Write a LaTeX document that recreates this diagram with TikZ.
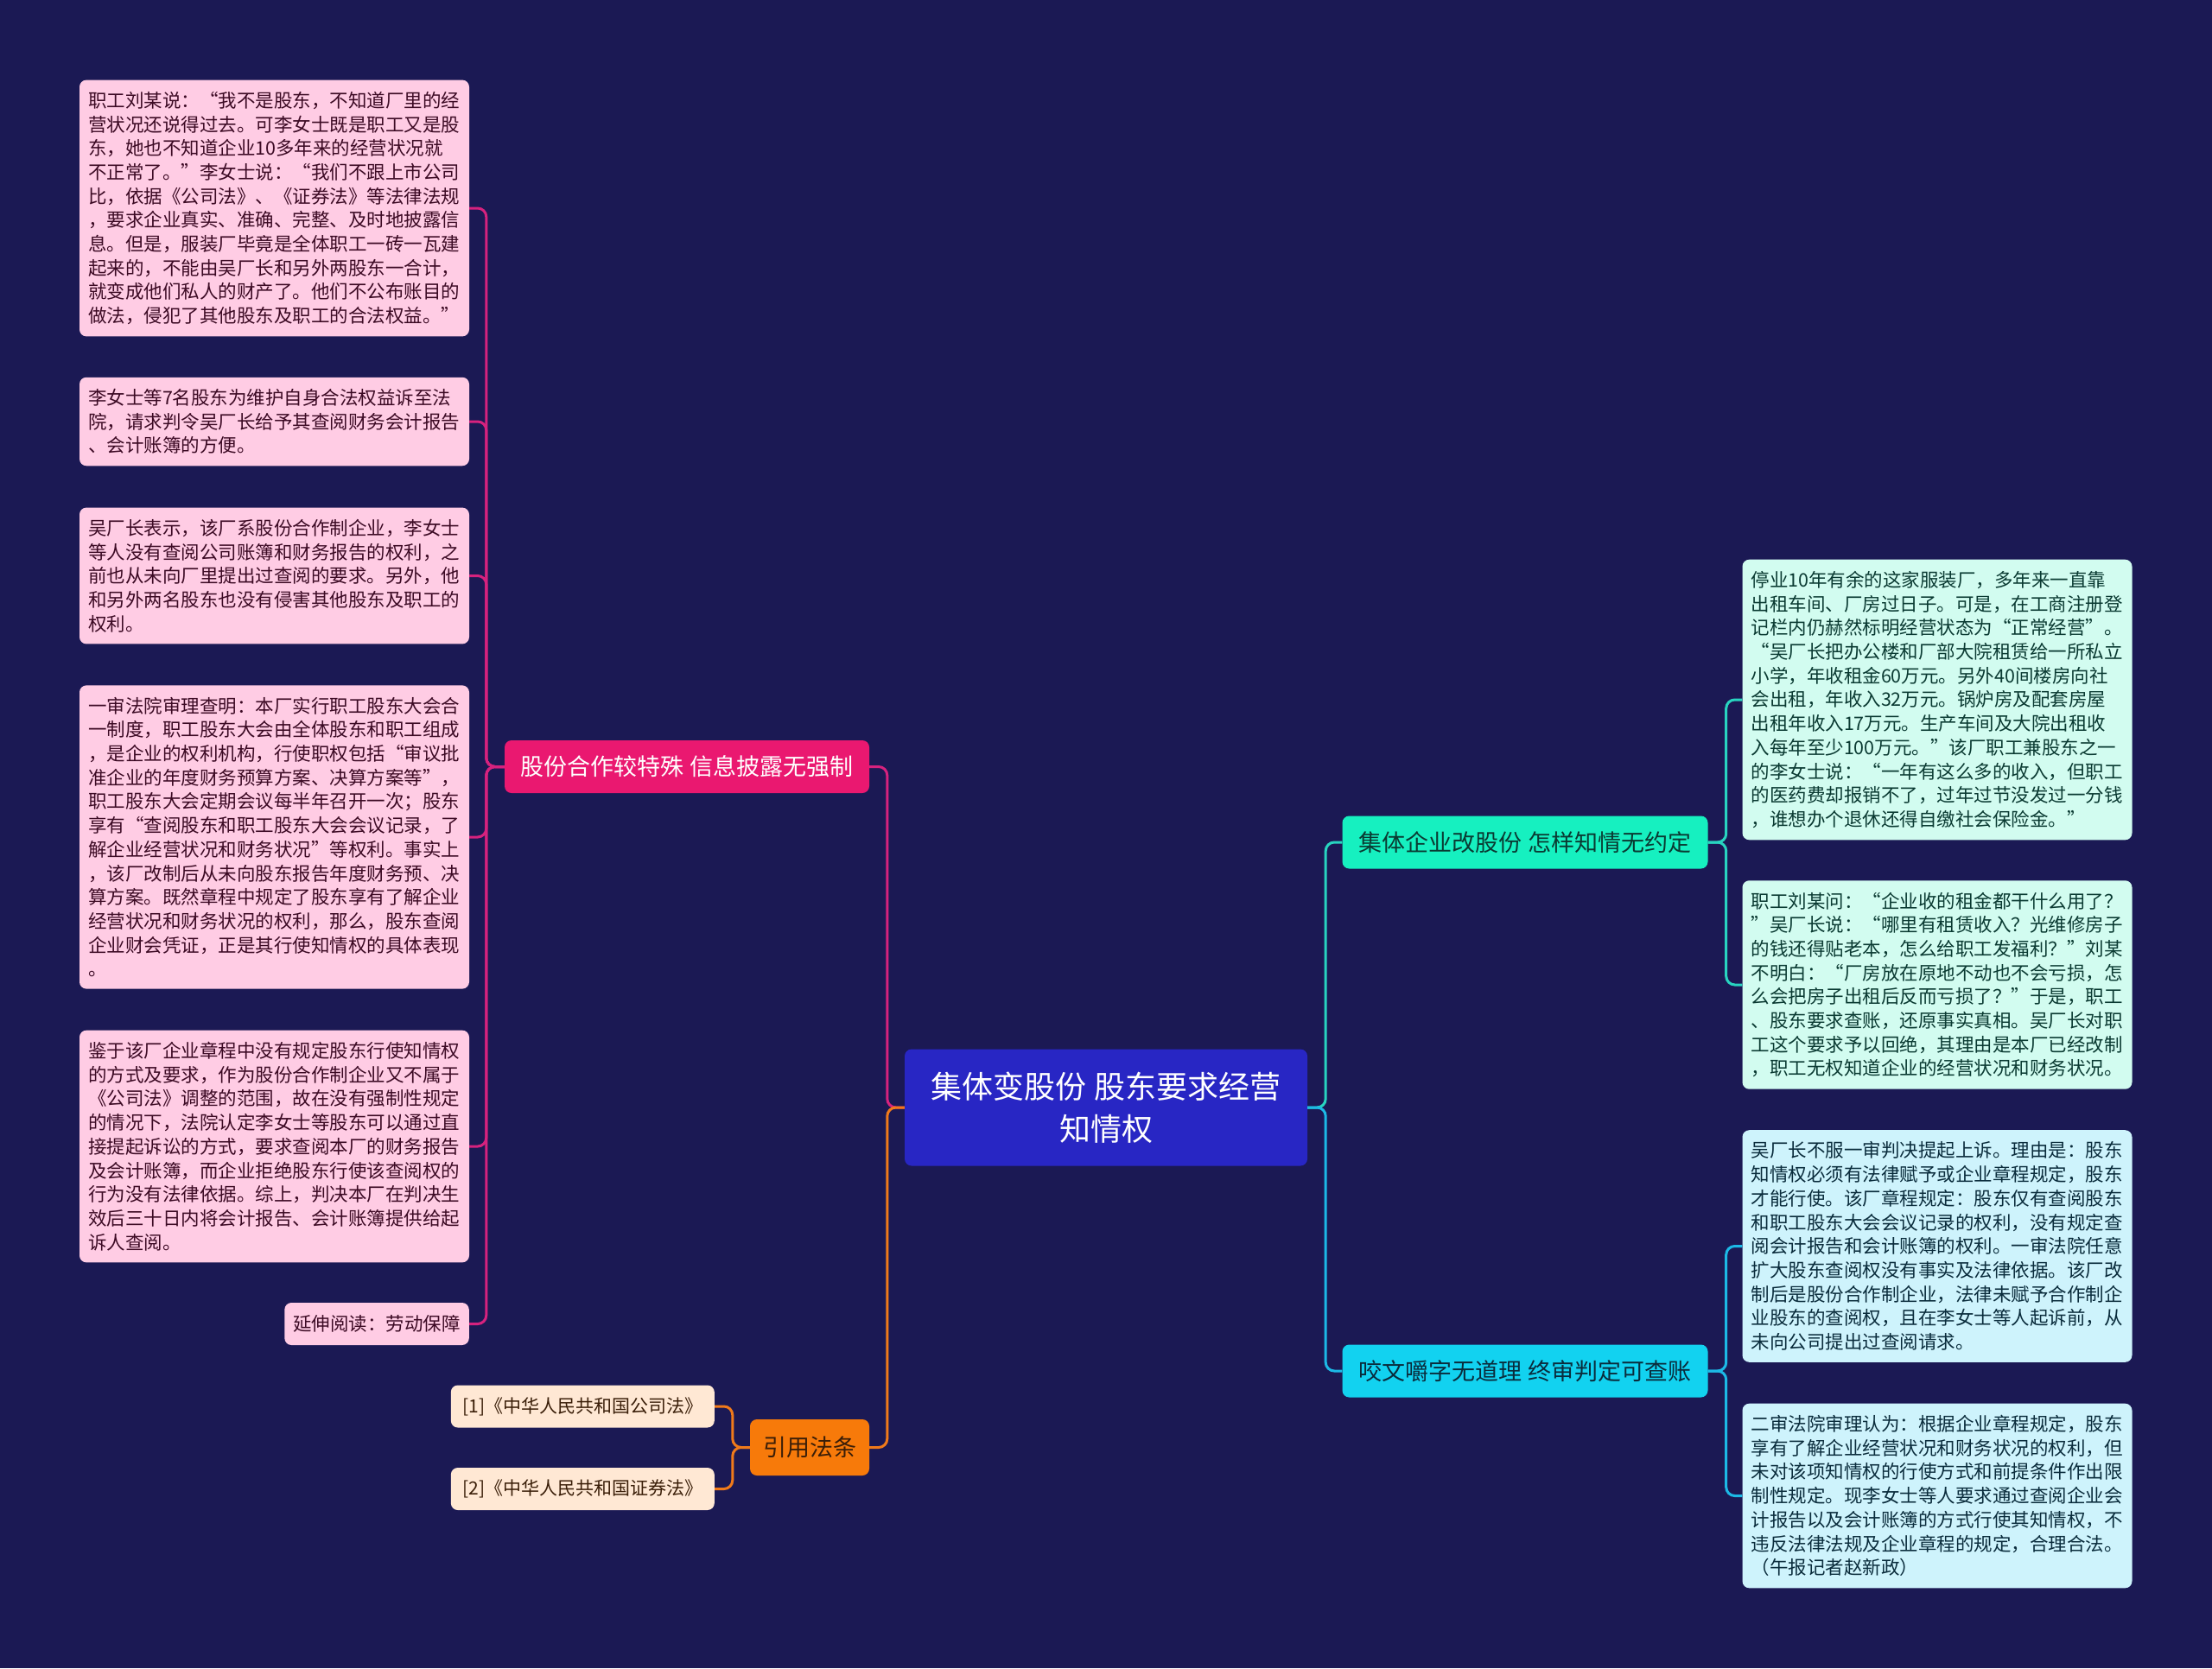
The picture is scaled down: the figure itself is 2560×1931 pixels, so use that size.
\documentclass[tikz,border=0pt]{standalone}
\usepackage{fontspec}
\setmainfont{Noto Sans CJK SC}
\definecolor{bgnavy}{RGB}{27,25,84}
\definecolor{rootblue}{RGB}{40,38,196}
\definecolor{hotpink}{RGB}{234,24,112}
\definecolor{pinkline}{RGB}{214,34,126}
\definecolor{pinkfill}{RGB}{255,204,228}
\definecolor{pinktext}{RGB}{60,10,36}
\definecolor{orangebr}{RGB}{247,122,10}
\definecolor{orangeline}{RGB}{240,122,26}
\definecolor{peachfill}{RGB}{255,232,212}
\definecolor{browntext}{RGB}{58,30,8}
\definecolor{aquabr}{RGB}{22,240,192}
\definecolor{aqualine}{RGB}{40,212,192}
\definecolor{mintfill}{RGB}{210,252,240}
\definecolor{tealtext}{RGB}{10,58,50}
\definecolor{cyanbr}{RGB}{18,210,240}
\definecolor{skyline}{RGB}{28,185,230}
\definecolor{skyfill}{RGB}{206,243,252}
\definecolor{navytext}{RGB}{10,44,60}

\begin{document}
\begin{tikzpicture}[x=1pt, y=-1pt,
  note/.style={rounded corners=8pt, text width=431pt, align=left, inner xsep=10pt, inner ysep=13.5pt, font=\fontsize{21.5}{27.7}\selectfont},
  pinknote/.style={note, fill=pinkfill, text=pinktext},
  mintnote/.style={note, fill=mintfill, text=tealtext},
  skynote/.style={note, fill=skyfill, text=navytext},
  tagnote/.style={rounded corners=8pt, fill=pinkfill, text=pinktext, minimum height=49pt, inner xsep=10pt, inner ysep=0pt, font=\fontsize{21.5}{25}\selectfont},
  lawnote/.style={rounded corners=8pt, fill=peachfill, text=browntext, minimum height=49pt, minimum width=305pt, inner sep=0pt, font=\fontsize{21}{25}\selectfont},
  branch/.style={rounded corners=8pt, minimum height=61pt, inner xsep=13pt, inner ysep=0pt, font=\fontsize{27}{32}\selectfont},
  link/.style={line width=3pt, rounded corners=10pt}
]
  \fill[bgnavy] (0,0) rectangle (2560,1931);

  % root
  \node[fill=rootblue, text=white, rounded corners=8pt, minimum width=466pt, minimum height=135pt, inner sep=0pt, align=center, font=\fontsize{36}{49}\selectfont] (main) at (1280,1282) {集体变股份 股东要求经营\\知情权};

  % main branches
  \node[branch, fill=hotpink, text=white, minimum width=422pt] (coop) at (795,887.5) {股份合作较特殊 信息披露无强制};
  \node[branch, fill=orangebr, text=browntext, minimum width=138pt, minimum height=65pt] (laws) at (937,1675.5) {引用法条};
  \node[branch, fill=aquabr, text=tealtext, minimum width=423pt] (reform) at (1765,975) {集体企业改股份 怎样知情无约定};
  \node[branch, fill=cyanbr, text=navytext, minimum width=423pt] (appeal) at (1765,1587) {咬文嚼字无道理 终审判定可查账};

  % left leaves
  \node[pinknote] (coop1) at (317.5,241) {
    职工刘某说：“我不是股东，不知道厂里的经\\
    营状况还说得过去。可李女士既是职工又是股\\
    东，她也不知道企业10多年来的经营状况就\\
    不正常了。”李女士说：“我们不跟上市公司\\
    比，依据《公司法》、《证券法》等法律法规\\
    ，要求企业真实、准确、完整、及时地披露信\\
    息。但是，服装厂毕竟是全体职工一砖一瓦建\\
    起来的，不能由吴厂长和另外两股东一合计，\\
    就变成他们私人的财产了。他们不公布账目的\\
    做法，侵犯了其他股东及职工的合法权益。”
  };
  \node[pinknote] (coop2) at (317.5,488) {
    李女士等7名股东为维护自身合法权益诉至法\\
    院，请求判令吴厂长给予其查阅财务会计报告\\
    、会计账簿的方便。
  };
  \node[pinknote] (coop3) at (317.5,666.5) {
    吴厂长表示，该厂系股份合作制企业，李女士\\
    等人没有查阅公司账簿和财务报告的权利，之\\
    前也从未向厂里提出过查阅的要求。另外，他\\
    和另外两名股东也没有侵害其他股东及职工的\\
    权利。
  };
  \node[pinknote] (coop4) at (317.5,969) {
    一审法院审理查明：本厂实行职工股东大会合\\
    一制度，职工股东大会由全体股东和职工组成\\
    ，是企业的权利机构，行使职权包括“审议批\\
    准企业的年度财务预算方案、决算方案等”，\\
    职工股东大会定期会议每半年召开一次；股东\\
    享有“查阅股东和职工股东大会会议记录，了\\
    解企业经营状况和财务状况”等权利。事实上\\
    ，该厂改制后从未向股东报告年度财务预、决\\
    算方案。既然章程中规定了股东享有了解企业\\
    经营状况和财务状况的权利，那么，股东查阅\\
    企业财会凭证，正是其行使知情权的具体表现\\
    。
  };
  \node[pinknote] (coop5) at (317.5,1327) {
    鉴于该厂企业章程中没有规定股东行使知情权\\
    的方式及要求，作为股份合作制企业又不属于\\
    《公司法》调整的范围，故在没有强制性规定\\
    的情况下，法院认定李女士等股东可以通过直\\
    接提起诉讼的方式，要求查阅本厂的财务报告\\
    及会计账簿，而企业拒绝股东行使该查阅权的\\
    行为没有法律依据。综上，判决本厂在判决生\\
    效后三十日内将会计报告、会计账簿提供给起\\
    诉人查阅。
  };
  \node[tagnote, anchor=east] (coop6) at (543,1532.5) {延伸阅读：劳动保障};

  \node[lawnote, anchor=east] (law1) at (827,1628) {[1]《中华人民共和国公司法》};
  \node[lawnote, anchor=east] (law2) at (827,1723.5) {[2]《中华人民共和国证券法》};

  % right leaves
  \node[mintnote] (reform1) at (2242,810) {
    停业10年有余的这家服装厂，多年来一直靠\\
    出租车间、厂房过日子。可是，在工商注册登\\
    记栏内仍赫然标明经营状态为“正常经营”。\\
    “吴厂长把办公楼和厂部大院租赁给一所私立\\
    小学，年收租金60万元。另外40间楼房向社\\
    会出租，年收入32万元。锅炉房及配套房屋\\
    出租年收入17万元。生产车间及大院出租收\\
    入每年至少100万元。”该厂职工兼股东之一\\
    的李女士说：“一年有这么多的收入，但职工\\
    的医药费却报销不了，过年过节没发过一分钱\\
    ，谁想办个退休还得自缴社会保险金。”
  };
  \node[mintnote] (reform2) at (2242,1140) {
    职工刘某问：“企业收的租金都干什么用了？\\
    ”吴厂长说：“哪里有租赁收入？光维修房子\\
    的钱还得贴老本，怎么给职工发福利？”刘某\\
    不明白：“厂房放在原地不动也不会亏损，怎\\
    么会把房子出租后反而亏损了？”于是，职工\\
    、股东要求查账，还原事实真相。吴厂长对职\\
    工这个要求予以回绝，其理由是本厂已经改制\\
    ，职工无权知道企业的经营状况和财务状况。
  };
  \node[skynote] (appeal1) at (2242,1442.5) {
    吴厂长不服一审判决提起上诉。理由是：股东\\
    知情权必须有法律赋予或企业章程规定，股东\\
    才能行使。该厂章程规定：股东仅有查阅股东\\
    和职工股东大会会议记录的权利，没有规定查\\
    阅会计报告和会计账簿的权利。一审法院任意\\
    扩大股东查阅权没有事实及法律依据。该厂改\\
    制后是股份合作制企业，法律未赋予合作制企\\
    业股东的查阅权，且在李女士等人起诉前，从\\
    未向公司提出过查阅请求。
  };
  \node[skynote] (appeal2) at (2242,1731.5) {
    二审法院审理认为：根据企业章程规定，股东\\
    享有了解企业经营状况和财务状况的权利，但\\
    未对该项知情权的行使方式和前提条件作出限\\
    制性规定。现李女士等人要求通过查阅企业会\\
    计报告以及会计账簿的方式行使其知情权，不\\
    违反法律法规及企业章程的规定，合理合法。\\
    （午报记者赵新政）
  };

  % connectors
  \draw[link, draw=pinkline] (main.west) -- ++(-20,0) |- (coop.east);
  \draw[link, draw=orangeline] (main.west) -- ++(-20,0) |- (laws.east);
  \draw[link, draw=aqualine] (main.east) -- ++(21,0) |- (reform.west);
  \draw[link, draw=skyline] (main.east) -- ++(21,0) |- (appeal.west);
  \foreach \n in {coop1,coop2,coop3,coop4,coop5,coop6}
    \draw[link, draw=pinkline] (coop.west) -- ++(-21,0) |- (\n.east);
  \foreach \n in {law1,law2}
    \draw[link, draw=orangeline] (laws.west) -- ++(-20,0) |- (\n.east);
  \foreach \n in {reform1,reform2}
    \draw[link, draw=aqualine] (reform.east) -- ++(21,0) |- (\n.west);
  \foreach \n in {appeal1,appeal2}
    \draw[link, draw=skyline] (appeal.east) -- ++(21,0) |- (\n.west);
\end{tikzpicture}
\end{document}
